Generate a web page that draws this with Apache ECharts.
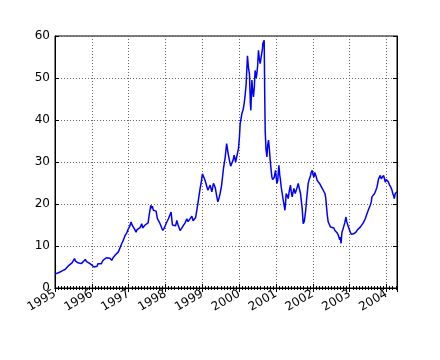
<!DOCTYPE html>
<html>
<head>
<meta charset="utf-8">
<script src="https://cdn.jsdelivr.net/npm/echarts@6/dist/echarts.min.js"></script>
<style>html,body{margin:0;padding:0;background:#fff}#c{width:440px;height:360px}</style>
</head>
<body>
<div id="c"></div>
<script>
// decimal years
var dates = [1995.000,1995.054,1995.136,1995.217,1995.272,1995.353,1995.407,1995.462,1995.489,1995.530,1995.557,1995.598,1995.625,1995.679,1995.714,1995.761,1995.823,1995.856,1995.896,1995.951,
1996.005,1996.059,1996.100,1996.141,1996.168,1996.222,1996.258,1996.304,1996.358,1996.394,1996.440,1996.494,1996.540,1996.576,1996.630,1996.676,1996.720,1996.766,1996.812,1996.847,1996.902,1996.942,1996.991,
1997.024,1997.065,1997.092,1997.127,1997.160,1997.200,1997.228,1997.263,1997.309,1997.355,1997.377,1997.399,1997.445,1997.491,1997.526,1997.562,1997.600,1997.622,1997.643,1997.670,1997.717,1997.744,1997.779,1997.812,1997.852,1997.893,1997.926,1997.961,1997.988,
1998.029,1998.078,1998.124,1998.151,1998.187,1998.233,1998.274,1998.306,1998.341,1998.396,1998.437,1998.485,1998.532,1998.578,1998.613,1998.667,1998.714,1998.749,1998.784,1998.817,1998.849,1998.885,1998.939,1998.966,
1999.002,1999.034,1999.075,1999.116,1999.148,1999.184,1999.211,1999.257,1999.300,1999.347,1999.387,1999.420,1999.455,1999.482,1999.523,1999.572,1999.618,1999.659,1999.700,1999.735,1999.768,1999.800,1999.836,1999.863,1999.903,1999.936,1999.980,
2000.007,2000.026,2000.072,2000.107,2000.134,2000.162,2000.189,2000.224,2000.251,2000.278,2000.303,2000.316,2000.344,2000.365,2000.387,2000.411,2000.433,2000.460,2000.479,2000.501,2000.523,2000.547,2000.569,2000.596,2000.615,2000.632,2000.642,2000.664,2000.678,2000.694,2000.705,2000.727,2000.751,2000.773,2000.795,2000.819,2000.841,2000.868,2000.887,2000.909,2000.930,2000.949,2000.985,
2001.009,2001.023,2001.044,2001.077,2001.099,2001.121,2001.140,2001.167,2001.194,2001.213,2001.240,2001.256,2001.275,2001.303,2001.330,2001.357,2001.392,2001.411,2001.438,2001.466,2001.485,2001.520,2001.547,2001.574,2001.601,2001.629,2001.664,2001.683,2001.710,2001.737,2001.764,2001.783,2001.805,2001.827,2001.851,2001.873,2001.900,2001.936,2001.954,2001.982,
2002.003,2002.028,2002.050,2002.071,2002.090,2002.117,2002.145,2002.180,2002.213,2002.253,2002.281,2002.327,2002.348,2002.370,2002.389,2002.416,2002.443,2002.479,2002.498,2002.525,2002.566,2002.598,2002.634,2002.661,2002.688,2002.707,2002.729,2002.742,2002.764,2002.789,2002.810,2002.832,2002.865,2002.897,2002.919,2002.952,2002.987,
2003.014,2003.041,2003.060,2003.082,2003.104,2003.136,2003.169,2003.204,2003.240,2003.286,2003.332,2003.367,2003.421,2003.468,2003.503,2003.557,2003.584,2003.603,2003.639,2003.674,2003.707,2003.739,2003.761,2003.783,2003.802,2003.829,2003.856,2003.875,2003.897,2003.919,2003.943,2003.965,2003.992,
2004.011,2004.046,2004.082,2004.114,2004.147,2004.168,2004.190,2004.209,2004.236,2004.283];
var prices = [3.3,3.5,3.8,4.2,4.4,5.2,5.6,6.0,6.4,7.0,6.4,6.6,6.0,6.3,5.8,6.2,6.8,6.3,6.0,5.8,
5.4,5.0,5.4,5.2,5.8,5.5,5.8,6.6,6.8,7.2,7.0,7.1,6.6,7.2,7.8,8.2,8.6,9.6,10.6,11.2,12.5,13.0,14.1,
14.6,15.7,15.0,14.9,14.0,13.3,13.9,13.7,14.4,15.3,14.3,14.5,15.0,14.6,15.5,17.7,19.7,19.0,19.5,18.5,18.9,18.3,16.5,16.0,15.3,14.4,13.7,14.2,14.5,
15.6,16.5,17.5,18.1,15.0,15.4,14.8,16.1,15.0,13.7,14.2,14.9,15.5,16.5,15.8,16.1,17.1,16.0,15.7,16.8,18.5,20.5,23.7,25.0,
27.2,26.5,25.6,24.3,23.3,24.0,24.5,22.9,24.9,24.0,22.0,20.5,21.5,22.5,24.5,28.4,31.0,34.4,32.0,30.4,29.0,28.8,30.5,31.6,30.0,30.4,33.2,
36.0,39.1,41.5,42.5,43.9,46.0,48.7,55.3,52.5,51.0,44.0,42.3,49.5,47.0,45.5,48.0,51.8,50.0,51.0,53.0,56.6,54.5,53.4,55.0,55.0,57.0,58.2,58.5,59.0,45.0,37.5,33.0,31.2,34.0,35.2,33.0,30.4,28.0,26.4,25.8,25.6,26.3,28.0,
26.0,24.9,25.5,29.2,27.0,25.6,24.0,22.5,21.0,20.1,18.5,20.0,22.5,22.0,21.3,23.0,24.5,23.0,21.7,23.0,23.7,22.5,22.9,24.0,24.9,23.8,22.5,21.0,18.9,15.3,15.8,16.9,18.5,20.9,23.0,24.9,25.8,26.8,27.5,28.0,
27.0,26.4,27.5,27.2,26.5,25.6,26.0,24.9,24.5,23.7,23.5,22.5,21.5,19.3,17.5,15.7,15.5,14.5,14.8,14.1,14.3,13.7,13.4,13.1,12.6,12.5,11.5,12.1,10.6,13.3,13.8,14.5,15.5,16.9,15.8,14.9,14.0,
13.3,12.8,12.5,13.0,12.9,13.2,13.3,13.8,14.1,14.5,14.9,15.5,16.5,17.7,18.5,19.7,20.5,21.7,22.0,22.5,23.2,24.0,25.0,26.0,26.4,26.8,26.0,25.6,26.3,26.8,26.0,25.2,25.8,
26.0,25.3,24.5,24.0,23.3,22.5,22.0,21.3,22.5,22.9];
var yTicks = [0,10,20,30,40,50,60];
var xMin = 1995, xMax = 2004.283;

var seriesData = dates.map(function(d,i){return [d, prices[i]];});
var font = 'DejaVu Sans';
var grid = {color:'#666', width:1, type:[1,2]};
function xAx(pos, labels){
  return {type:'value', position:pos, min:xMin, max:xMax, interval:1,
    axisLine:{show:true, lineStyle:{color:'#000', width:1}},
    axisTick:{show:true, inside:true, length:4, lineStyle:{color:'#000'}},
    minorTick:{show:true, splitNumber:12, length:2, lineStyle:{color:'#000'}},
    axisLabel:{show:labels, rotate:30, margin:5, fontFamily:font, fontSize:12, color:'#000', showMaxLabel:false,
      formatter:function(v){return Math.abs(v-Math.round(v))<1e-6 ? String(Math.round(v)) : '';}},
    splitLine:{show:labels, lineStyle:grid}, minorSplitLine:{show:false}};
}
function yAx(pos, labels){
  return {type:'value', position:pos, min:yTicks[0], max:yTicks[yTicks.length-1], interval:10,
    axisLine:{show:true, lineStyle:{color:'#000', width:1}},
    axisTick:{show:true, inside:true, length:4, lineStyle:{color:'#000'}},
    axisLabel:{show:labels, margin:5, fontFamily:font, fontSize:12, color:'#000'},
    splitLine:{show:labels, lineStyle:grid}};
}
var chart = echarts.init(document.getElementById('c'), null, {renderer:'canvas'});
chart.setOption({
  animation:false,
  backgroundColor:'#fff',
  grid:{left:55, right:43, top:36, bottom:72, show:true, borderColor:'#000', borderWidth:1, backgroundColor:'#fff'},
  xAxis:[xAx('bottom', true), xAx('top', false)],
  yAxis:[yAx('left', true), yAx('right', false)],
  series:[{type:'line', data:seriesData, showSymbol:false, symbol:'none',
    lineStyle:{color:'#0000ff', width:1.5}, xAxisIndex:0, yAxisIndex:0}]
});
</script>
</body>
</html>
